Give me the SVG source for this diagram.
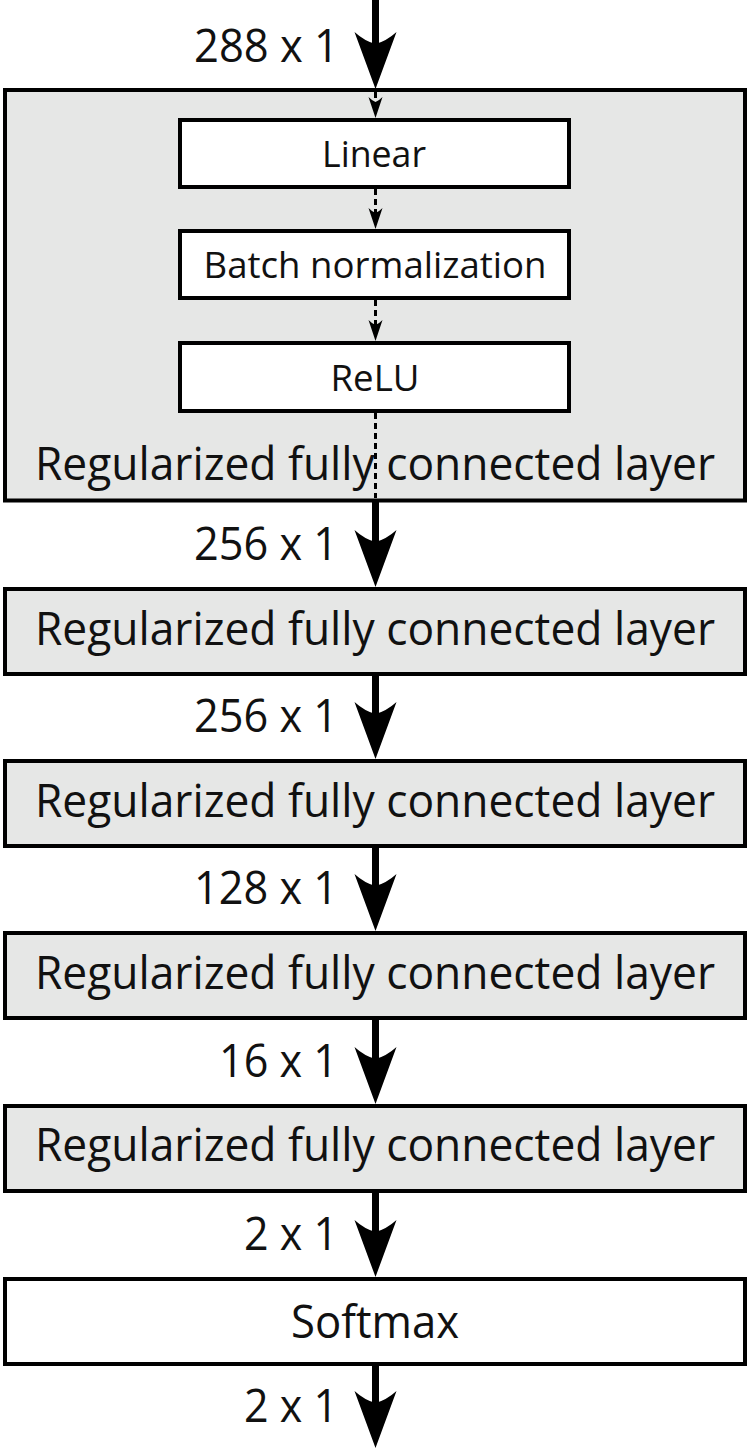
<svg xmlns="http://www.w3.org/2000/svg" xmlns:xlink="http://www.w3.org/1999/xlink" width="750" height="1451" viewBox="0 0 750 1451">
<defs>
<path id="bighead" d="M0,0 L21,-57 Q11,-48 0,-45 Q-11,-48 -21,-57 Z" fill="#000"/>
<path id="smallhead" d="M0,0 L7,-21 Q3,-17 0,-16 Q-3,-17 -7,-21 Z" fill="#000"/>
<style>
.outer{fill:#e6e7e6;stroke:#000;stroke-width:4}
.inner{fill:#fff;stroke:#000;stroke-width:4}
.soft{fill:#fff;stroke:#000;stroke-width:4}
.t{font-family:"Open Sans","Noto Sans","Liberation Sans",sans-serif;fill:#111;}
.big{font-size:46px}
.small{font-size:37px}
.solid{stroke:#000;stroke-width:7;fill:none}
.dash{stroke:#000;stroke-width:3;fill:none;stroke-dasharray:6 4}
</style>
</defs>
<rect width="750" height="1451" fill="#fff"/>

<g id="layer1">
<rect class="outer" x="5" y="90" width="740" height="410.5"/>
<text class="t big" x="375" y="480" text-anchor="middle" textLength="680" lengthAdjust="spacingAndGlyphs">Regularized fully connected layer</text>
</g>
<g id="linear">
<rect class="inner" x="180" y="120" width="389" height="67"/>
<text class="t small" x="374" y="167" text-anchor="middle" textLength="104" lengthAdjust="spacingAndGlyphs">Linear</text>
</g>
<g id="batchnorm">
<rect class="inner" x="180" y="231" width="389" height="67"/>
<text class="t small" x="375" y="278" text-anchor="middle" textLength="343" lengthAdjust="spacingAndGlyphs">Batch normalization</text>
</g>
<g id="relu">
<rect class="inner" x="180" y="343" width="389" height="68"/>
<text class="t small" x="375" y="391" text-anchor="middle" textLength="89" lengthAdjust="spacingAndGlyphs">ReLU</text>
</g>
<g id="layer2">
<rect class="outer" x="5" y="589" width="740" height="85"/>
<text class="t big" x="375" y="645" text-anchor="middle" textLength="680" lengthAdjust="spacingAndGlyphs">Regularized fully connected layer</text>
</g>
<g id="layer3">
<rect class="outer" x="5" y="761" width="740" height="85"/>
<text class="t big" x="375" y="817" text-anchor="middle" textLength="680" lengthAdjust="spacingAndGlyphs">Regularized fully connected layer</text>
</g>
<g id="layer4">
<rect class="outer" x="5" y="933" width="740" height="85"/>
<text class="t big" x="375" y="989" text-anchor="middle" textLength="680" lengthAdjust="spacingAndGlyphs">Regularized fully connected layer</text>
</g>
<g id="layer5">
<rect class="outer" x="5" y="1106" width="740" height="85"/>
<text class="t big" x="375" y="1161" text-anchor="middle" textLength="680" lengthAdjust="spacingAndGlyphs">Regularized fully connected layer</text>
</g>
<g id="softmax">
<rect class="soft" x="5" y="1279" width="740" height="85"/>
<text class="t big" x="375" y="1338" text-anchor="middle" textLength="168" lengthAdjust="spacingAndGlyphs">Softmax</text>
</g>

<g id="connectors">
<line class="solid" x1="375.5" y1="0" x2="375.5" y2="50"/>
<use xlink:href="#bighead" href="#bighead" transform="translate(375.5,89)"/>
<line class="dash" x1="375.5" y1="92" x2="375.5" y2="104"/>
<use xlink:href="#smallhead" href="#smallhead" transform="translate(375.5,118)"/>
<line class="dash" x1="375.5" y1="189" x2="375.5" y2="215"/>
<use xlink:href="#smallhead" href="#smallhead" transform="translate(375.5,229)"/>
<line class="dash" x1="375.5" y1="300" x2="375.5" y2="327"/>
<use xlink:href="#smallhead" href="#smallhead" transform="translate(375.5,341)"/>
<line class="dash" x1="375.5" y1="413" x2="375.5" y2="498"/>
<line class="solid" x1="375.5" y1="502" x2="375.5" y2="545"/>
<use xlink:href="#bighead" href="#bighead" transform="translate(375.5,587)"/>
<line class="solid" x1="375.5" y1="676" x2="375.5" y2="718"/>
<use xlink:href="#bighead" href="#bighead" transform="translate(375.5,759)"/>
<line class="solid" x1="375.5" y1="848" x2="375.5" y2="890"/>
<use xlink:href="#bighead" href="#bighead" transform="translate(375.5,931)"/>
<line class="solid" x1="375.5" y1="1020" x2="375.5" y2="1062"/>
<use xlink:href="#bighead" href="#bighead" transform="translate(375.5,1104)"/>
<line class="solid" x1="375.5" y1="1193" x2="375.5" y2="1235"/>
<use xlink:href="#bighead" href="#bighead" transform="translate(375.5,1277)"/>
<line class="solid" x1="375.5" y1="1366" x2="375.5" y2="1408"/>
<use xlink:href="#bighead" href="#bighead" transform="translate(375.5,1448)"/>
</g>

<g id="labels">
<text class="t big" x="339" y="62" text-anchor="end" textLength="145" lengthAdjust="spacingAndGlyphs">288 x 1</text>
<text class="t big" x="338" y="560" text-anchor="end" textLength="144" lengthAdjust="spacingAndGlyphs">256 x 1</text>
<text class="t big" x="338" y="732" text-anchor="end" textLength="144" lengthAdjust="spacingAndGlyphs">256 x 1</text>
<text class="t big" x="338" y="904" text-anchor="end" textLength="144" lengthAdjust="spacingAndGlyphs">128 x 1</text>
<text class="t big" x="338" y="1077" text-anchor="end" textLength="119" lengthAdjust="spacingAndGlyphs">16 x 1</text>
<text class="t big" x="338" y="1250" text-anchor="end" textLength="94" lengthAdjust="spacingAndGlyphs">2 x 1</text>
<text class="t big" x="338" y="1422" text-anchor="end" textLength="94" lengthAdjust="spacingAndGlyphs">2 x 1</text>
</g>
</svg>
